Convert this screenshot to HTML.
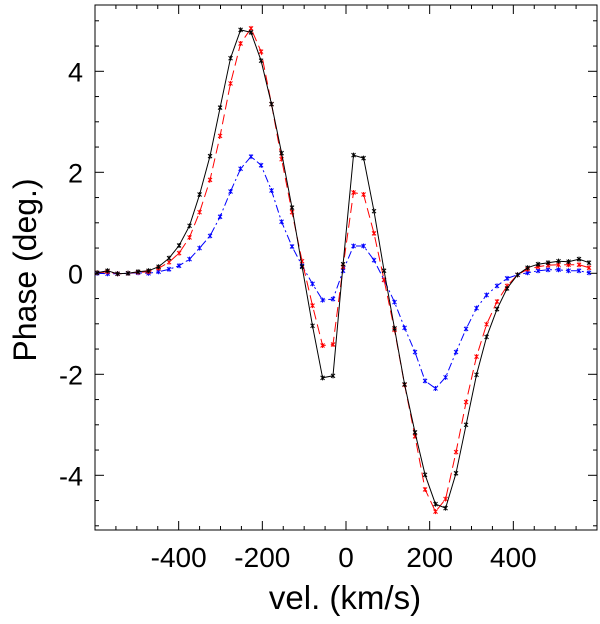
<!DOCTYPE html>
<html><head><meta charset="utf-8"><style>
body{margin:0;background:#fff;width:600px;height:619px;overflow:hidden}
svg text{font-family:"Liberation Sans",Arial,sans-serif;fill:#000}
</style></head><body>
<svg id="chart" width="600" height="619" xmlns="http://www.w3.org/2000/svg"></svg>
<script>
const velocities=[-595,-570,-546,-521,-497,-472,-448,-423,-399,-374,-350,-325,-301,-276,-252,-227,-203,-178,-154,-129,-105,-80,-56,-31,-7,18,42,67,91,116,140,165,189,214,238,263,287,312,336,361,385,410,434,459,483,508,532,557,581];
const blackSeries=[0.01,0.05,-0.01,0,0.03,0.05,0.13,0.3,0.55,0.94,1.56,2.32,3.28,4.26,4.82,4.77,4.21,3.35,2.38,1.3,0.13,-1.04,-2.07,-2.03,0.18,2.34,2.28,1.23,0.05,-1.09,-2.2,-3.15,-3.99,-4.57,-4.65,-3.96,-3.0,-2.01,-1.26,-0.71,-0.3,-0.03,0.11,0.18,0.21,0.24,0.23,0.28,0.21];
const redSeries=[0.01,0.03,-0.01,0,0.02,0.03,0.1,0.22,0.4,0.71,1.21,1.85,2.72,3.76,4.55,4.85,4.39,3.35,2.26,1.21,0.24,-0.64,-1.43,-1.41,0.13,1.6,1.56,0.79,-0.13,-1.12,-2.21,-3.23,-4.28,-4.72,-4.47,-3.54,-2.55,-1.65,-1.01,-0.56,-0.25,-0.03,0.08,0.13,0.16,0.17,0.17,0.17,0.11];
const blueSeries=[0,-0.01,-0.01,0,0.01,0,0.03,0.08,0.15,0.28,0.5,0.74,1.12,1.62,2.07,2.31,2.14,1.64,1.02,0.53,0.15,-0.21,-0.53,-0.51,0.05,0.54,0.54,0.26,-0.13,-0.57,-1.08,-1.56,-2.13,-2.28,-2.06,-1.56,-1.1,-0.69,-0.43,-0.25,-0.1,-0.03,0.01,0.05,0.07,0.07,0.05,0.05,0.01];
const xTickLabels=[-400,-200,0,200,400];
const yTickLabels=[-4,-2,0,2,4];

const NS="http://www.w3.org/2000/svg";
const svg=document.getElementById('chart');
const L=95,R=597,T=5,B=530;
const xs=v=>L+(v+600)/1200*(R-L);
const ys=v=>273.3-v*50.5;
function mk(tag,attrs,parent){const e=document.createElementNS(NS,tag);for(const k in attrs)e.setAttribute(k,attrs[k]);(parent||svg).appendChild(e);return e;}

const frame=mk('rect',{x:L,y:T,width:R-L,height:B-T,fill:'none',stroke:'#000','stroke-width':1});



for(let v=-550;v<=550;v+=50){
  const x=xs(v);const major=v%200===0;const len=major?9:4;
  const t1=mk('line',{x1:x,y1:B,x2:x,y2:B-len,stroke:'#000'});
  
  
  const t2=mk('line',{x1:x,y1:T,x2:x,y2:T+len,stroke:'#000'});
  
  
}
xTickLabels.forEach(v=>{
  const t=mk('text',{x:xs(v),y:567,'font-size':28,'text-anchor':'middle'});
  t.textContent=v;
  
  
});
for(let v=-5;v<=5.01;v+=0.5){
  const y=ys(v);if(y<T||y>B)continue;const major=Math.abs(v%2)<1e-9;const len=major?9:4;
  const t1=mk('line',{x1:L,y1:y,x2:L+len,y2:y,stroke:'#000'});
  
  
  const t2=mk('line',{x1:R,y1:y,x2:R-len,y2:y,stroke:'#000'});
  
  
}
yTickLabels.forEach(v=>{
  const t=mk('text',{x:83,y:ys(v)+10,'font-size':27,'text-anchor':'end'});
  t.textContent=v;
  
  
});
const xt=mk('text',{x:345,y:609,'font-size':33,'text-anchor':'middle'});
xt.textContent='vel. (km/s)';


const yt=mk('text',{x:0,y:0,'font-size':32,'text-anchor':'middle',transform:'translate(36,270) rotate(-90)'});
yt.textContent='Phase (deg.)';



function series(vals,color,dash,name){
  const g=mk('g',{});
  
  
  const pts=vals.map((v,i)=>xs(velocities[i]).toFixed(1)+','+ys(v).toFixed(1)).join(' ');
  const pl=mk('polyline',{points:pts,fill:'none',stroke:color,'stroke-width':1,'stroke-dasharray':dash},g);
  
  
  vals.forEach((v,i)=>{
    const x=xs(velocities[i]),y=ys(v);
    const m=mk('path',{d:`M${x-2},${y-2}L${x+2},${y+2}M${x-2},${y+2}L${x+2},${y-2}M${x},${y-2.5}L${x},${y+2.5}`,stroke:color,'stroke-width':1},g);
    
    
  });
}
series(blueSeries,'#0000ff','8,3,2,3','blue-series');
series(redSeries,'#ff0000','10,5','red-series');
series(blackSeries,'#000000','none','black-series');
</script>
</body></html>
